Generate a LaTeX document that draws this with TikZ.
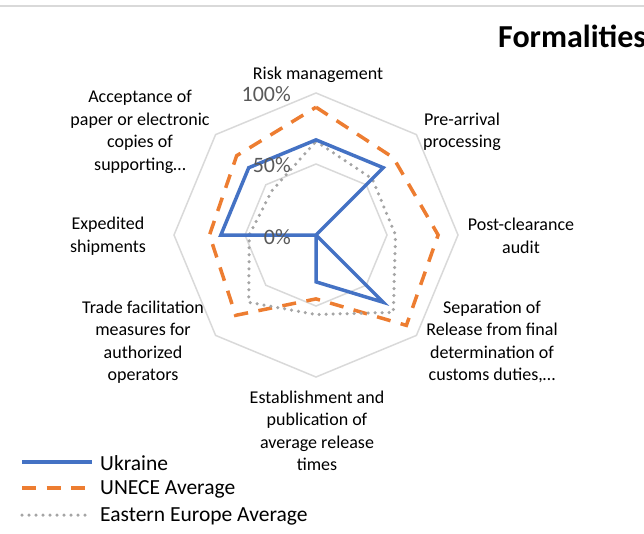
\documentclass[tikz,border=0pt]{standalone}
\usepackage{fontspec}
\setmainfont{Carlito}
\usepackage{xcolor}
\usepackage{tikz}
\usetikzlibrary{positioning,calc}

\definecolor{ukblue}{HTML}{4472C4}
\definecolor{uneceorange}{HTML}{ED7D31}
\definecolor{eegray}{HTML}{A5A5A5}
\definecolor{gridgray}{HTML}{D9D9D9}
\definecolor{ticktext}{HTML}{595959}

\begin{document}
\begin{tikzpicture}[
    x=1pt, y=1pt,
    gridring/.style={draw=gridgray, line width=1.5pt},
    ukraine/.style={draw=ukblue, line width=3.5pt},
    unece/.style={draw=uneceorange, line width=3.5pt, dash pattern=on 14pt off 10.5pt},
    eastern/.style={draw=eegray, line width=3.5pt, line cap=round, dash pattern=on 0pt off 7pt},
    axislabel/.style={align=center, inner sep=0pt, font=\fontsize{18}{22.5}\selectfont},
    ticklabel/.style={anchor=east, inner sep=0pt, text=ticktext, font=\fontsize{22}{22}\selectfont},
    legendtext/.style={anchor=west, inner sep=0pt, font=\fontsize{21.5}{21.5}\selectfont}
]
    \clip (0,0) rectangle (644,-533);
    \coordinate (c) at (316,-235);

    % top border of the chart area
    \draw[gridgray, line width=2pt] (0,-6) -- (644,-6);

    % rings at 50% and 100%
    \foreach \r in {71,142}
        \draw[gridring] ($(c)+(90:\r)$) \foreach \a in {45,0,...,-225} { -- ($(c)+(\a:\r)$) } -- cycle;

    % series, clockwise from Risk management
    \draw[unece] ($(c)+(90:{.90*142})$)
        \foreach \v [count=\i from 1] in {.77,.86,.90,.45,.80,.75,.79} { -- ($(c)+({90-45*\i}:{\v*142})$) } -- cycle;
    \draw[eastern] ($(c)+(90:{.66*142})$)
        \foreach \v [count=\i from 1] in {.56,.56,.77,.56,.67,.47,.44} { -- ($(c)+({90-45*\i}:{\v*142})$) } -- cycle;
    \draw[ukraine] ($(c)+(90:{.67*142})$)
        \foreach \v [count=\i from 1] in {.67,0,.67,.33,0,.67,.67} { -- ($(c)+({90-45*\i}:{\v*142})$) } -- cycle;

    % tick labels
    \node[ticklabel] (t100) at (291,-94) {100\%};
    \node[ticklabel] (t50) at (291,-165) {50\%};
    \node[ticklabel] (t0) at (291,-237) {0\%};

    % category labels
    \node[axislabel] (risk) at (318,-75) {Risk management};
    \node[axislabel] (prearr) at (462,-132) {Pre-arrival\\processing};
    \node[axislabel] (postcl) at (521,-236) {Post-clearance\\audit};
    \node[axislabel] (separ) at (492,-342) {Separation of\\Release from final\\determination of\\customs duties,…};
    \node[axislabel] (establ) at (317,-431) {Establishment and\\publication of\\average release\\times};
    \node[axislabel] (tradef) at (143,-342) {Trade facilitation\\measures for\\authorized\\operators};
    \node[axislabel] (exped) at (108,-236) {Expedited\\shipments};
    \node[axislabel] (accept) at (140,-132) {Acceptance of\\paper or electronic\\copies of\\supporting…};

    % title
    \node[anchor=base west, inner sep=0pt, font=\bfseries\fontsize{32}{32}\selectfont] (title) at (498,-47) {Formalities};

    % legend
    \coordinate (ua) at (22,-462);  \coordinate (ub) at (92,-462);
    \coordinate (ea) at (22,-488);  \coordinate (eb) at (92,-488);
    \coordinate (ga) at (22,-515);  \coordinate (gb) at (92,-515);
    \draw[ukraine] (ua) -- (ub);
    \draw[unece] (ea) -- (eb);
    \draw[eastern] (ga) -- (gb);
    \node[legendtext] (lukr) at (100,-463) {Ukraine};
    \node[legendtext] (lune) at (100,-489) {UNECE Average};
    \node[legendtext] (leeu) at (100,-516) {Eastern Europe Average};
\end{tikzpicture}
\end{document}
